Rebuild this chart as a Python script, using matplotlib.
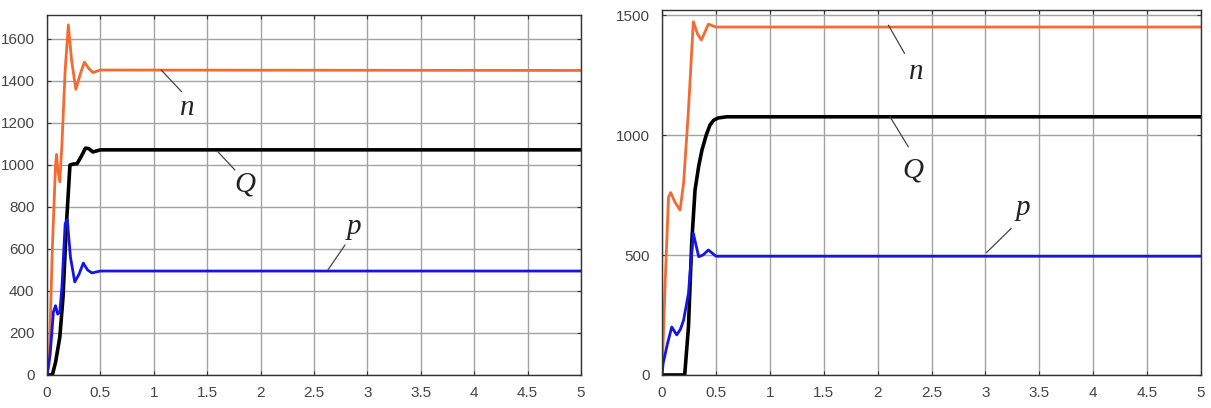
import matplotlib
matplotlib.use("Agg")
import matplotlib.pyplot as plt
from matplotlib.ticker import FormatStrFormatter

# left panel (s)
left_n_t = [0, 0.02, 0.05, 0.08, 0.09, 0.10, 0.12, 0.14, 0.17, 0.20, 0.23, 0.27, 0.31, 0.35, 0.39, 0.43, 0.5, 5.0]
left_n = [0, 50, 600, 1000, 1050, 980, 920, 1100, 1450, 1667, 1500, 1360, 1430, 1490, 1460, 1440, 1452, 1450]
left_q_t = [0, 0.05, 0.08, 0.12, 0.15, 0.18, 0.215, 0.25, 0.28, 0.32, 0.36, 0.39, 0.43, 0.5, 5.0]
left_q = [0, 0, 60, 180, 370, 700, 1000, 1005, 1005, 1040, 1080, 1078, 1062, 1072, 1072]
left_p_t = [0, 0.03, 0.06, 0.08, 0.10, 0.12, 0.14, 0.17, 0.19, 0.22, 0.26, 0.30, 0.34, 0.38, 0.42, 0.5, 5.0]
left_p = [0, 100, 300, 330, 290, 300, 420, 720, 740, 560, 443, 480, 533, 500, 486, 495, 495]

# right panel
right_n_t = [0, 0.03, 0.06, 0.08, 0.12, 0.167, 0.2, 0.245, 0.29, 0.33, 0.365, 0.43, 0.5, 5.0]
right_n = [0, 400, 742, 760, 720, 687, 800, 1104, 1472, 1420, 1396, 1462, 1450, 1450]
right_q_t = [0, 0.21, 0.245, 0.275, 0.306, 0.34, 0.37, 0.41, 0.445, 0.48, 0.52, 0.6, 5.0]
right_q = [0, 0, 200, 549, 771, 870, 937, 1000, 1042, 1062, 1071, 1076, 1076]
right_p_t = [0, 0.01, 0.05, 0.09, 0.136, 0.17, 0.2, 0.245, 0.27, 0.29, 0.34, 0.38, 0.43, 0.5, 5.0]
right_p = [0, 48, 130, 200, 167, 190, 229, 340, 480, 590, 493, 500, 521, 495, 495]

x_ticks = [0, 0.5, 1, 1.5, 2, 2.5, 3, 3.5, 4, 4.5, 5]
left_y_ticks = [0, 200, 400, 600, 800, 1000, 1200, 1400, 1600]
right_y_ticks = [0, 500, 1000, 1500]

# label text, label position, leader start, leader end
left_labels = [("n", (1.31, 1271), (1.07, 1452), (1.26, 1349)),
               ("Q", (1.85, 905), (1.60, 1063), (1.76, 976)),
               ("p", (2.87, 705), (2.63, 500), (2.79, 619))]
right_labels = [("n", (2.36, 1262), (2.10, 1458), (2.25, 1340)),
                ("Q", (2.33, 854), (2.115, 1076), (2.285, 951)),
                ("p", (3.35, 695), (3.01, 510), (3.24, 611))]

ORANGE = "#f26b30"
BLUE = "#1414e6"

plt.rcParams["font.family"] = ["Liberation Sans", "DejaVu Sans"]

fig = plt.figure(figsize=(12.11, 4.08), dpi=100)
ax1 = fig.add_axes([0.0388, 0.0809, 0.441, 0.8823])
ax2 = fig.add_axes([0.5467, 0.0809, 0.445, 0.8946])


def draw_panel(ax, n_t, n, q_t, q, p_t, p, yticks, ylim, labels):
	ax.plot(n_t, n, color=ORANGE, lw=2.0)
	ax.plot(q_t, q, color="black", lw=2.6)
	ax.plot(p_t, p, color=BLUE, lw=2.0)
	ax.set_xlim(0, 5)
	ax.set_ylim(0, ylim)
	ax.set_xticks(x_ticks)
	ax.set_yticks(yticks)
	ax.xaxis.set_major_formatter(FormatStrFormatter("%g"))
	ax.grid(True, color="#a3a3a3", lw=1.0)
	ax.tick_params(direction="in", length=3, top=True, right=True,
				   labelsize=11, labelcolor="#454545", color="#333333")
	ax.tick_params(axis="x", pad=8)
	ax.tick_params(axis="y", pad=9)
	for sp in ax.spines.values():
		sp.set_color("#333333")
		sp.set_linewidth(1.0)
	for txt, pos, start, end in labels:
		ax.annotate("", xy=start, xytext=end,
					arrowprops=dict(arrowstyle="-", color="#444444", lw=0.9,
									shrinkA=0, shrinkB=0))
		ax.text(pos[0], pos[1], txt, fontsize=21, style="italic",
				family="Liberation Serif", ha="center", va="center", color="#222222")


draw_panel(ax1, left_n_t, left_n, left_q_t, left_q, left_p_t, left_p,
		   left_y_ticks, 1714, left_labels)
draw_panel(ax2, right_n_t, right_n, right_q_t, right_q, right_p_t, right_p,
		   right_y_ticks, 1521, right_labels)

fig.savefig("out.png", dpi=100)
